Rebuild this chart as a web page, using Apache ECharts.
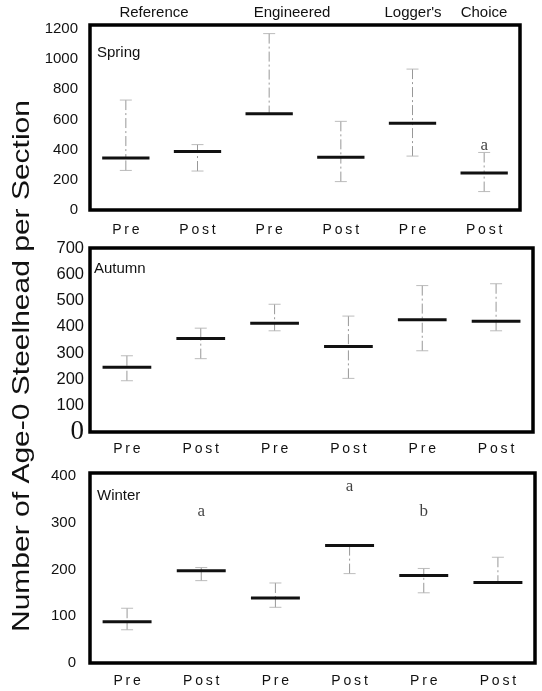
<!DOCTYPE html>
<html>
<head>
<meta charset="utf-8">
<script src="https://cdn.jsdelivr.net/npm/echarts@6/dist/echarts.min.js"></script>
<style>
  html, body { margin: 0; padding: 0; background: #fff; }
  #chart { width: 542px; height: 691px; }
</style>
</head>
<body>
<div id="chart"></div>
<script>
// categories along x (same in every panel)
const periods = ['Pre', 'Post', 'Pre', 'Post', 'Pre', 'Post']

// Spring: median, upper and lower whisker (null = no whisker drawn)
const springMedian = [345, 388, 638, 350, 574, 245]
const springHigh = [728, 433, 1168, 587, 933, 381]
const springLow = [262, 258, null, 188, 357, 122]
const springLetters = [[5, 430, 'a']]

// Autumn
const autumnMedian = [246, 356, 414, 325, 427, 421]
const autumnHigh = [290, 395, 486, 441, 557, 564]
const autumnLow = [195, 279, 385, 204, 309, 385]

// Winter
const winterMedian = [88, 197, 139, 251, 187, 172]
const winterHigh = [117, 204, 171, null, 202, 226]
const winterLow = [71, 176, 119, 191, 150, null]
const winterLetters = [[1, 323, 'a'], [3, 377, 'a'], [4, 323, 'b']]

// y tick steps / maxima
const springTicks = { max: 1225, interval: 200 }
const autumnTicks = { max: 700, interval: 100 }
const winterTicks = { max: 406, interval: 100 }

const FONT = "'Liberation Sans', Arial, sans-serif"
const SERIF = "'Liberation Serif', 'Times New Roman', serif"

const chart = echarts.init(document.getElementById('chart'), null, { renderer: 'canvas' })

// spaced Pre / Post labels like the scan
const spaced = s => s.split('').join('\u2009')

function renderWhisker(params, api) {
  const i = api.value(0)
  const med = api.coord([i, api.value(1)])
  const hi = api.value(2)
  const lo = api.value(3)
  const half = api.size([1, 0])[0] * 0.33
  const cap = 6
  const children = []
  const whisker = { stroke: '#8c8c8c', lineWidth: 0.9, lineDash: [10, 3, 2, 3] }
  const capStyle = { stroke: '#b4b4b4', lineWidth: 0.9 }

  if (isFinite(hi)) {
    const p = api.coord([i, hi])
    children.push({ type: 'line', shape: { x1: p[0], y1: p[1], x2: med[0], y2: med[1] }, style: whisker })
    children.push({ type: 'line', shape: { x1: p[0] - cap, y1: p[1], x2: p[0] + cap, y2: p[1] }, style: capStyle })
  }
  if (isFinite(lo)) {
    const p = api.coord([i, lo])
    children.push({ type: 'line', shape: { x1: p[0], y1: p[1], x2: med[0], y2: med[1] }, style: whisker })
    children.push({ type: 'line', shape: { x1: p[0] - cap, y1: p[1], x2: p[0] + cap, y2: p[1] }, style: capStyle })
  }
  children.push({
    type: 'line',
    shape: { x1: med[0] - half, y1: med[1], x2: med[0] + half, y2: med[1] },
    style: { stroke: '#111', lineWidth: 3 }
  })
  return { type: 'group', children }
}

function toData(med, hi, lo) {
  return med.map((m, i) => [i, m, hi[i] == null ? NaN : hi[i], lo[i] == null ? NaN : lo[i]])
}

const grids = [
  { left: 90, right: 22, top: 25, height: 185 },
  { left: 90, right: 9, top: 248, height: 184 },
  { left: 90, right: 7, top: 473, height: 190 }
].map(g => Object.assign(g, { show: true, borderColor: '#000', borderWidth: 3.5, backgroundColor: 'transparent' }))

const xLabelMargins = [13, 10, 11]
const xAxes = grids.map((g, k) => ({
  type: 'category',
  gridIndex: k,
  data: periods.map(spaced),
  axisLine: { show: false },
  axisTick: { show: false },
  splitLine: { show: false },
  axisLabel: { color: '#111', fontFamily: FONT, fontSize: 14, margin: xLabelMargins[k] }
}))

function yAxis(k, ticks, fontSize, margin, rich) {
  return {
    type: 'value',
    gridIndex: k,
    min: 0,
    max: ticks.max,
    interval: ticks.interval,
    axisLine: { show: false },
    axisTick: { show: false },
    splitLine: { show: false },
    axisLabel: {
      color: '#111',
      fontFamily: FONT,
      fontSize,
      margin,
      showMaxLabel: ticks.max % ticks.interval === 0,
      formatter: v => {
        if (v % ticks.interval !== 0) return ''
        if (rich && v === 0) return '{big|0}'
        return String(v)
      },
      rich: rich || {}
    }
  }
}

const yAxes = [
  yAxis(0, springTicks, 15, 12),
  yAxis(1, autumnTicks, 16.5, 6, { big: { fontFamily: SERIF, fontSize: 27, color: '#111' } }),
  yAxis(2, winterTicks, 15, 14)
]

function letterSeries(k, letters) {
  return {
    type: 'scatter',
    xAxisIndex: k,
    yAxisIndex: k,
    symbolSize: 1,
    itemStyle: { color: 'transparent' },
    silent: true,
    data: letters.map(l => ({ value: [l[0], l[1]], name: l[2] })),
    label: {
      show: true,
      position: 'inside',
      formatter: p => p.name,
      fontFamily: SERIF,
      fontSize: 17,
      color: '#111'
    }
  }
}

const series = [
  { type: 'custom', xAxisIndex: 0, yAxisIndex: 0, renderItem: renderWhisker, data: toData(springMedian, springHigh, springLow) },
  { type: 'custom', xAxisIndex: 1, yAxisIndex: 1, renderItem: renderWhisker, data: toData(autumnMedian, autumnHigh, autumnLow) },
  { type: 'custom', xAxisIndex: 2, yAxisIndex: 2, renderItem: renderWhisker, data: toData(winterMedian, winterHigh, winterLow) },
  letterSeries(0, springLetters),
  letterSeries(2, winterLetters)
]

function label(text, x, y, size, align) {
  return {
    type: 'text',
    x, y,
    silent: true,
    style: {
      text, font: size + 'px ' + FONT, fill: '#111',
      textAlign: align || 'center', align: align || 'center',
      textVerticalAlign: 'middle', verticalAlign: 'middle'
    }
  }
}

const graphic = [
  label('Reference', 154, 13, 15),
  label('Engineered', 292, 13, 15),
  label("Logger's", 413, 13, 15),
  label('Choice', 484, 13, 15),
  label('Spring', 97, 53, 15, 'left'),
  label('Autumn', 94, 269, 15, 'left'),
  label('Winter', 97, 496, 15, 'left'),
  {
    type: 'text',
    x: 22, y: 366,
    rotation: Math.PI / 2,
    scaleX: 1.25,
    silent: true,
    style: {
      text: 'Number of Age-0 Steelhead per Section',
      font: '24px ' + FONT, fill: '#111',
      textAlign: 'center', align: 'center',
      textVerticalAlign: 'middle', verticalAlign: 'middle'
    }
  }
]

chart.setOption({
  animation: false,
  backgroundColor: '#fff',
  grid: grids,
  xAxis: xAxes,
  yAxis: yAxes,
  series,
  graphic
})
</script>
</body>
</html>
